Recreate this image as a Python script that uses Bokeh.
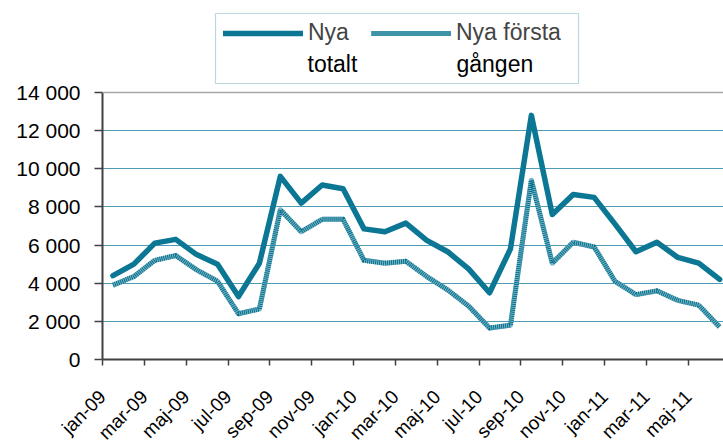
import math
from bokeh.plotting import figure
from bokeh.models import (Range1d, FixedTicker, Span, Legend, LegendItem,
                          Label, BoxAnnotation)
from bokeh.embed import file_html
from bokeh.resources import INLINE

months = ["jan-09", "feb-09", "mar-09", "apr-09", "maj-09", "jun-09",
          "jul-09", "aug-09", "sep-09", "okt-09", "nov-09", "dec-09",
          "jan-10", "feb-10", "mar-10", "apr-10", "maj-10", "jun-10",
          "jul-10", "aug-10", "sep-10", "okt-10", "nov-10", "dec-10",
          "jan-11", "feb-11", "mar-11", "apr-11", "maj-11", "jun-11"]

nya_totalt = [4400, 5000, 6100, 6300, 5500, 5000, 3300, 5050, 9600, 8200, 9150, 8950,
              6850, 6700, 7150, 6250, 5650, 4750, 3500, 5800, 12800, 7600, 8650, 8500,
              7100, 5650, 6150, 5350, 5050, 4200]

nya_forsta = [3900, 4350, 5200, 5450, 4700, 4100, 2400, 2650, 7850, 6700, 7350, 7350,
              5200, 5050, 5150, 4350, 3650, 2800, 1650, 1800, 9400, 5050, 6150, 5900,
              4100, 3400, 3600, 3100, 2850, 1700]

y_ticks = [0, 2000, 4000, 6000, 8000, 10000, 12000, 14000]
y_tick_labels = ["0", "2 000", "4 000", "6 000", "8 000", "10 000", "12 000", "14 000"]

FONT = "Liberation Sans"
TEAL = "#0B7794"

# layout (pixels)
PLOT_H = 267          # height of the 0..14000 value area
FRAME_H = 359         # frame also holds the legend strip above the value area
FRAME_W = 621
LEFT = 102

xs = [i + 0.5 for i in range(len(months))]
x_ticks = list(range(0, len(months), 2))
x_tick_labels = months[::2]

y_max = y_ticks[-1]
y_top = y_max * FRAME_H / PLOT_H
x_end = FRAME_W / 20.92

p = figure(frame_width=FRAME_W, frame_height=FRAME_H,
           min_border_left=LEFT, min_border_right=0, min_border_top=0, min_border_bottom=60,
           x_range=Range1d(0, x_end), y_range=Range1d(0, y_top),
           output_backend="svg", toolbar_location=None)
p.outline_line_color = None
p.background_fill_color = "white"
p.border_fill_color = "white"

# y axis
p.yaxis.ticker = FixedTicker(ticks=y_ticks)
p.yaxis.bounds = (0, y_max)
p.yaxis.major_label_overrides = {t: l for t, l in zip(y_ticks, y_tick_labels)}
p.yaxis.minor_tick_line_color = None
p.yaxis.major_tick_out = 8
p.yaxis.major_tick_in = 0
p.yaxis.major_label_standoff = 14
p.yaxis.axis_line_color = "#404040"
p.yaxis.axis_line_width = 2
p.yaxis.major_tick_line_color = "#404040"
p.yaxis.major_tick_line_width = 1.5
p.yaxis.major_label_text_font = FONT
p.yaxis.major_label_text_font_size = "21px"
p.yaxis.major_label_text_color = "black"

# x axis
p.xaxis.ticker = FixedTicker(ticks=x_ticks)
p.xaxis.major_label_overrides = {t: l for t, l in zip(x_ticks, x_tick_labels)}
p.xaxis.minor_tick_line_color = None
p.xaxis.major_tick_out = 6
p.xaxis.major_tick_in = 0
p.xaxis.major_label_standoff = 28
p.xaxis.major_label_orientation = math.pi / 4
p.xaxis.axis_line_color = "#404040"
p.xaxis.axis_line_width = 2
p.xaxis.major_tick_line_color = "#404040"
p.xaxis.major_tick_line_width = 1.5
p.xaxis.major_label_text_font = FONT
p.xaxis.major_label_text_font_size = "19px"
p.xaxis.major_label_text_color = "black"

# grid
p.xgrid.grid_line_color = None
p.ygrid.ticker = FixedTicker(ticks=y_ticks[1:-1])
p.ygrid.grid_line_color = "#4E9DB6"
p.ygrid.grid_line_width = 1.2
p.add_layout(Span(location=y_max, dimension="width", line_color="#A6A6A6", line_width=1.5))

# series
r_tot = p.line(xs, nya_totalt, line_color=TEAL, line_width=5.5,
               line_join="round", line_cap="round")
r_f1 = p.line(xs, nya_forsta, line_color="#79B5C6", line_width=5, line_join="round")
r_f2 = p.line(xs, nya_forsta, line_color="#06708C", line_width=5, line_dash="1 1",
              line_join="round")

# legend (first text line + samples), box and second text lines
legend = Legend(items=[LegendItem(label="Nya", renderers=[r_tot]),
                       LegendItem(label="Nya första", renderers=[r_f1, r_f2])],
                location=(121, 313), orientation="horizontal",
                glyph_width=80, glyph_height=16, label_standoff=5, spacing=13,
                label_width=50, label_height=26,
                padding=0, margin=0,
                label_text_font=FONT, label_text_font_size="23px",
                border_line_color=None, background_fill_alpha=0)
p.add_layout(legend, "center")

p.add_layout(BoxAnnotation(left=113, right=476, bottom=276, top=346,
                           left_units="screen", right_units="screen",
                           bottom_units="screen", top_units="screen",
                           fill_alpha=0, line_color="#1F7A96", line_width=1.2))
for lx, txt in [(205, "totalt"), (354, "gången")]:
    p.add_layout(Label(x=lx, y=296, x_units="screen", y_units="screen", text=txt,
                       text_font=FONT, text_font_size="23px", text_color="black",
                       text_baseline="middle"))

open("out.html", "w").write(file_html(p, INLINE))
